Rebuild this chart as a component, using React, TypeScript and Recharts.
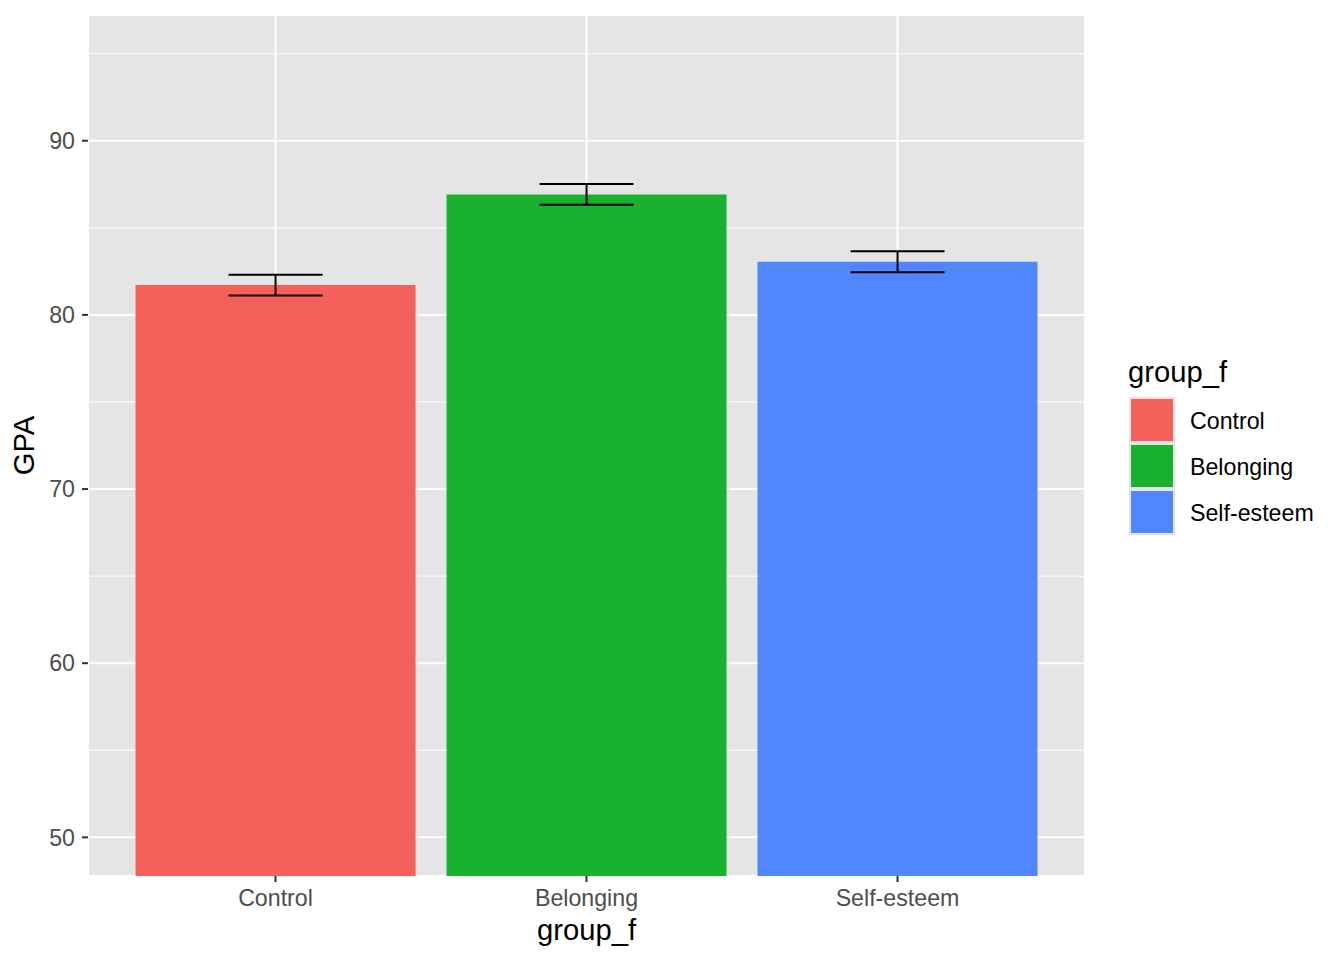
import React from 'react';
import { BarChart, Bar, XAxis, YAxis, CartesianGrid, ErrorBar, Cell, Label } from 'recharts';

const groups = ['Control', 'Belonging', 'Self-esteem'];
const gpaMeans = [81.71, 86.92, 83.05];
const gpaErrors = [0.6, 0.6, 0.6];
const groupColors = ['#F4605A', '#19B12E', '#5086FF'];
const yMajorTicks = [50, 60, 70, 80, 90];
const yMinorTicks = [55, 65, 75, 85, 95];
const yDomain: [number, number] = [47.78, 97.22];
const xTitle = 'group_f';
const yTitle = 'GPA';
const legendTitle = 'group_f';

const FONT = '"Liberation Sans", Arial, Helvetica, sans-serif';
const PANEL = '#E5E5E5';
const TICK_SIZE = 23.2;
const TITLE_SIZE = 29.2;

const data = groups.map((g, i) => ({ group: g, gpa: gpaMeans[i], err: gpaErrors[i] }));

const XTitle = (props: any) => {
  const vb = props.viewBox || { x: 88, y: 876, width: 997, height: 84 };
  return (
    <text x={vb.x + vb.width / 2} y={vb.y + 64} textAnchor="middle" fontSize={TITLE_SIZE} fill="#000" fontFamily={FONT}>
      {xTitle}
    </text>
  );
};

const YTitle = (props: any) => {
  const vb = props.viewBox || { x: 0, y: 15, width: 88, height: 861 };
  const cx = vb.x + 24;
  const cy = vb.y + vb.height / 2;
  return (
    <text x={cx} y={cy} dy="0.35em" transform={`rotate(-90, ${cx}, ${cy})`} textAnchor="middle" fontSize={TITLE_SIZE} fill="#000" fontFamily={FONT}>
      {yTitle}
    </text>
  );
};

const LegendOverlay = () => (
  <svg width={1344} height={960} style={{ position: 'absolute', left: 0, top: 0, pointerEvents: 'none' }}>
    <text x={1128} y={382} fontSize={TITLE_SIZE} fill="#000" fontFamily={FONT}>{legendTitle}</text>
    <rect x={1129} y={397} width={46} height={46 * groups.length} fill={PANEL} />
    {groups.map((g, i) => (
      <g key={g}>
        <rect x={1131} y={399 + 46 * i} width={42} height={42} fill={groupColors[i]} />
        <text x={1190} y={429 + 46 * i} fontSize={TICK_SIZE} fill="#000" fontFamily={FONT}>{g}</text>
      </g>
    ))}
  </svg>
);

export default function App() {
  return (
    <div style={{ position: 'absolute', left: 0, top: 0, width: 1344, height: 960, background: '#fff' }}>
      <BarChart width={1344} height={960} data={data} margin={{ top: 15, right: 259, bottom: 0, left: 0 }} barCategoryGap="5%">
        <CartesianGrid yAxisId="minor" vertical={false} stroke="#FFFFFF" strokeWidth={1} fill={PANEL} />
        <CartesianGrid yAxisId="main" stroke="#FFFFFF" strokeWidth={2} />
        <XAxis
          dataKey="group"
          type="category"
          height={84}
          padding={{ left: 32, right: 32 }}
          axisLine={false}
          tickSize={6}
          tickMargin={8}
          interval={0}
          tickLine={{ stroke: '#333333', strokeWidth: 2 }}
          tick={{ fill: '#4D4D4D', fontSize: TICK_SIZE, fontFamily: FONT }}
        >
          <Label content={XTitle} />
        </XAxis>
        <YAxis
          yAxisId="main"
          type="number"
          width={88}
          domain={yDomain}
          allowDataOverflow
          ticks={yMajorTicks}
          axisLine={false}
          tickSize={6}
          tickMargin={7}
          tickLine={{ stroke: '#333333', strokeWidth: 2 }}
          tick={{ fill: '#4D4D4D', fontSize: TICK_SIZE, fontFamily: FONT }}
        >
          <Label content={YTitle} />
        </YAxis>
        <YAxis yAxisId="minor" type="number" hide domain={yDomain} allowDataOverflow ticks={yMinorTicks} />
        <Bar yAxisId="main" dataKey="gpa" isAnimationActive={false}>
          {data.map((d, i) => (
            <Cell key={d.group} fill={groupColors[i]} />
          ))}
          <ErrorBar dataKey="err" width={47} stroke="#000000" strokeWidth={2} isAnimationActive={false} />
        </Bar>
      </BarChart>
      <LegendOverlay />
    </div>
  );
}
